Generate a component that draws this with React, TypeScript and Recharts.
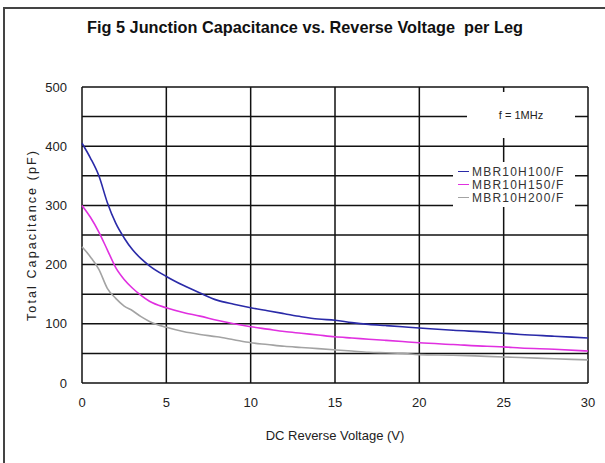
import { LineChart, Line, XAxis, YAxis, CartesianGrid } from 'recharts'

// reverse voltage (V)
const VOLTS = [0, 0.5, 1, 1.5, 2, 2.5, 3, 3.5, 4, 5, 6, 7, 8, 9, 10, 11, 12, 13, 14, 15, 16, 17, 18, 19, 20, 22, 24, 25, 26, 28, 30]
// total capacitance (pF) per part
const C_H100 = [405, 380, 350, 305, 270, 245, 225, 210, 198, 180, 165, 152, 140, 133, 127, 122, 117, 112, 108, 106, 102, 99, 97, 95, 93, 89, 86, 84, 82, 79, 76]
const C_H150 = [300, 280, 255, 225, 195, 175, 160, 148, 138, 127, 119, 113, 106, 100, 95, 91, 87, 84, 81, 78, 76, 74, 72, 70, 68, 65, 62, 61, 59, 57, 54]
const C_H200 = [230, 213, 192, 160, 143, 130, 122, 112, 104, 94, 87, 82, 78, 73, 68, 65, 62, 60, 58, 56, 54, 52, 51, 50, 48, 47, 45, 44, 43, 41, 39]

const X_TICKS = [0, 5, 10, 15, 20, 25, 30]
const Y_TICKS = [0, 50, 100, 150, 200, 250, 300, 350, 400, 450, 500]

const SERIES = [
  { key: 'h100', label: 'MBR10H100/F', color: '#2a2aa8' },
  { key: 'h150', label: 'MBR10H150/F', color: '#e030e0' },
  { key: 'h200', label: 'MBR10H200/F', color: '#a3a3a3' },
]

const data = VOLTS.map((v, i) => ({ v, h100: C_H100[i], h150: C_H150[i], h200: C_H200[i] }))

const FONT = '"Liberation Sans", Arial, sans-serif'

export default function App() {
  return (
    <div style={{ position: 'absolute', left: 0, top: 0, width: 605, height: 463, overflow: 'hidden', background: '#fff' }}>
      <div style={{ position: 'absolute', left: 3, top: 7, width: 640, height: 500, border: '2px solid #444' }} />
      <div style={{
        position: 'absolute', left: 0, top: 18, width: 610, textAlign: 'center',
        fontFamily: FONT, fontWeight: 'bold', fontSize: 16.3, color: '#111',
      }}>
        Fig 5 Junction Capacitance vs. Reverse Voltage&nbsp; per Leg
      </div>
      <div style={{ position: 'absolute', left: 0, top: 0 }}>
        <LineChart width={605} height={463} data={data} margin={{ top: 87, right: 17, bottom: 50, left: 22 }}>
          <CartesianGrid stroke="#111" strokeWidth={1.5} />
          <XAxis
            dataKey="v"
            type="number"
            domain={[0, 30]}
            ticks={X_TICKS}
            height={30}
            axisLine={false}
            tickLine={false}
            tickSize={0}
            tickMargin={15}
            tick={{ fill: '#222', fontSize: 13, fontFamily: FONT }}
          />
          <YAxis
            type="number"
            domain={[0, 500]}
            ticks={Y_TICKS}
            width={60}
            axisLine={false}
            tickLine={false}
            tickSize={0}
            tickMargin={15}
            interval={0}
            tickFormatter={(v: number) => (v % 100 === 0 ? String(v) : '')}
            tick={{ fill: '#222', fontSize: 13, fontFamily: FONT }}
          />
          {SERIES.map((s) => (
            <Line
              key={s.key}
              type="monotone"
              dataKey={s.key}
              name={s.label}
              stroke={s.color}
              strokeWidth={1.6}
              dot={false}
              isAnimationActive={false}
            />
          ))}
        </LineChart>
      </div>
      <div style={{
        position: 'absolute', left: 453, top: 162, width: 122, background: '#fff',
        padding: '3px 0 3px 5px', boxSizing: 'border-box', fontFamily: FONT,
      }}>
        {SERIES.map((s) => (
          <div key={s.key} style={{ display: 'flex', alignItems: 'center', height: 13 }}>
            <span style={{ width: 11, height: 1.5, background: s.color, marginRight: 3 }} />
            <span style={{ fontSize: 12, letterSpacing: 1.2, color: '#333' }}>{s.label}</span>
          </div>
        ))}
      </div>
      <div style={{
        position: 'absolute', left: 467, top: 92, width: 108, height: 46, background: '#fff',
        display: 'flex', alignItems: 'center', justifyContent: 'center',
        fontFamily: FONT, fontSize: 11, color: '#222',
      }}>
        f = 1MHz
      </div>
      <div style={{
        position: 'absolute', left: 0, top: 428, width: 670, textAlign: 'center',
        fontFamily: FONT, fontSize: 13, color: '#222',
      }}>
        DC Reverse Voltage (V)
      </div>
      <div style={{ position: 'absolute', left: 32, top: 236, width: 0, height: 0 }}>
        <div style={{
          position: 'absolute', left: -120, top: -8, width: 240, textAlign: 'center',
          transform: 'rotate(-90deg)', fontFamily: FONT, fontSize: 12.5, letterSpacing: 2.1, color: '#222',
        }}>
          Total Capacitance (pF)
        </div>
      </div>
    </div>
  )
}
